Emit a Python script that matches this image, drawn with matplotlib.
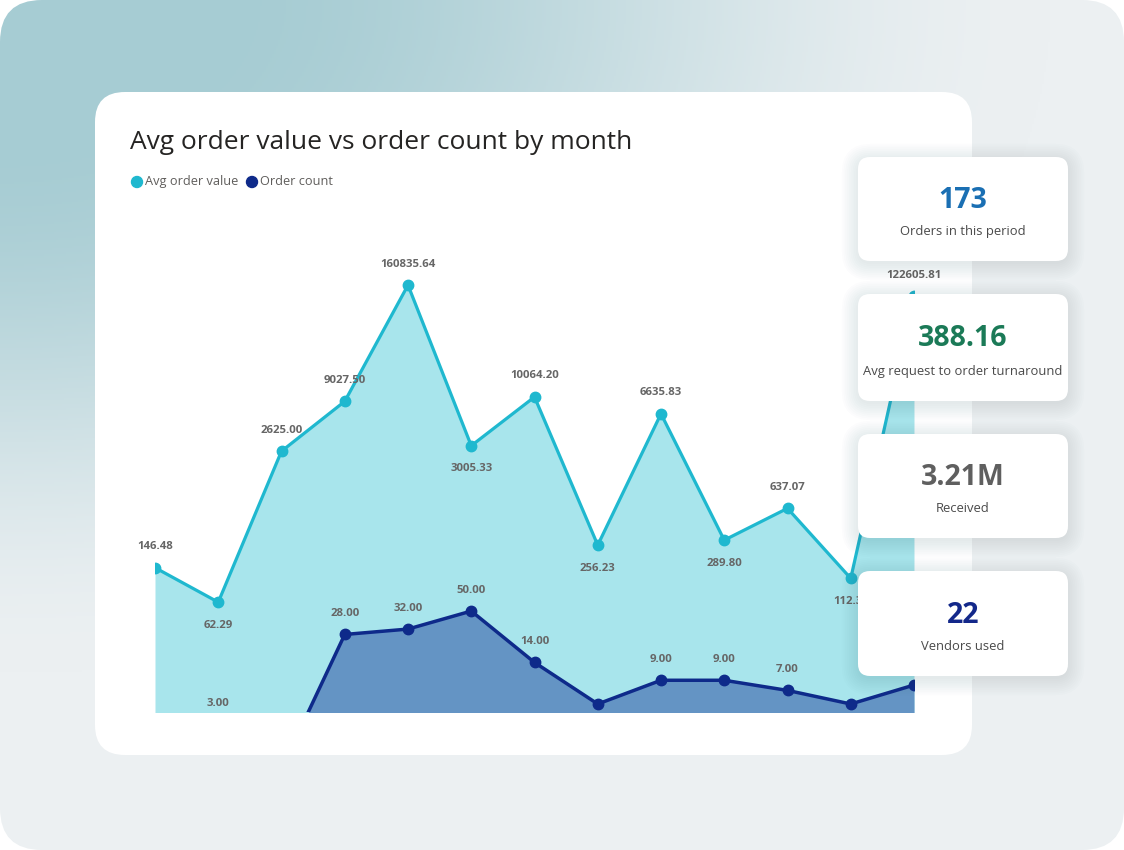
import numpy as np
import matplotlib
matplotlib.use("Agg")
import matplotlib.pyplot as plt
from matplotlib.patches import FancyBboxPatch, Circle

plt.rcParams['font.family'] = ['Open Sans', 'DejaVu Sans']

# data
months = np.arange(13)
avg_value = [146.48, 62.29, 2625.00, 9027.50, 160835.64, 3005.33, 10064.20,
             256.23, 6635.83, 289.80, 637.07, 112.35, 122605.81]
order_count = [2, 3, 1, 28, 32, 50, 14, 5, 9, 9, 7, 5, 8]
avg_label_pos = ['up', 'down', 'up', 'up', 'up', 'down', 'up',
                 'down', 'up', 'down', 'up', 'down', 'up']
count_labelled = [False, True, False, True, True, True, True,
                  False, True, True, True, False, False]

kpi_values = ['173', '388.16', '3.21M', '22']
kpi_names = ['Orders in this period', 'Avg request to order turnaround',
             'Received', 'Vendors used']
kpi_colors = ['#1a6fb3', '#1b7a57', '#5f5f5f', '#13288a']

W, H = 1124, 850
fig = plt.figure(figsize=(W / 100, H / 100), dpi=100)
fig.patch.set_facecolor('white')

# background layer in pixel coords
bg = fig.add_axes([0, 0, 1, 1], zorder=0)
bg.set_xlim(0, W)
bg.set_ylim(H, 0)
bg.axis('off')

yy, xx = np.mgrid[0:H:2, 0:W:2]
t = np.sqrt((xx / 1000.0) ** 2 + (yy / 640.0) ** 2)
t = np.clip((t - 0.2) / 0.85, 0, 1)
t = t * t * (3 - 2 * t)
teal = np.array([166, 204, 211]) / 255.0
light = np.array([236, 240, 242]) / 255.0
img = teal * (1 - t[..., None]) + light * t[..., None]
frame = FancyBboxPatch((0, 0), W, H, boxstyle="round,pad=0,rounding_size=42",
                       fc='none', ec='none')
bg.add_patch(frame)
im = bg.imshow(img, extent=(0, W, H, 0), zorder=0)
im.set_clip_path(frame)


def card(ax, x, y, w, h, r, shadow=True):
    if shadow:
        for i in range(10):
            s = 1 + i * 1.8
            ax.add_patch(FancyBboxPatch((x - s + 1, y - s + 4), w + 2 * s - 2, h + 2 * s - 2,
                                        boxstyle=f"round,pad=0,rounding_size={r + s}",
                                        fc=(0.25, 0.32, 0.36, 0.01), ec='none', zorder=1))
    ax.add_patch(FancyBboxPatch((x, y), w, h, boxstyle=f"round,pad=0,rounding_size={r}",
                                fc='white', ec='none', zorder=2))


card(bg, 95, 92, 877, 663, 30, shadow=False)

bg.text(130, 142, 'Avg order value vs order count by month', fontsize=19,
        color='#252423', va='center', ha='left', zorder=3)
bg.add_patch(Circle((137, 182), 5.5, color='#1fb8cf', zorder=3))
bg.text(145, 181, 'Avg order value', fontsize=9.2, color='#605e5c', va='center', zorder=3)
bg.add_patch(Circle((252, 182), 5.5, color='#0e2a8a', zorder=3))
bg.text(260, 181, 'Order count', fontsize=9.2, color='#605e5c', va='center', zorder=3)

# chart axes
left, right, bottom_px, top_px = 155, 914, 712, 230
ax = fig.add_axes([left / W, 1 - bottom_px / H, (right - left) / W, (bottom_px - top_px) / H],
                  zorder=1)
ax.patch.set_alpha(0)
ax.set_yscale('log')
ybot, ytop = 4.1, 6.3e5
ax.set_xlim(0, 12)
ax.set_ylim(ybot, ytop)
ax.axis('off')

# fill down well below the visible floor so the axes edge does the cut
base = 0.3
c_avg, f_avg = '#1fb8cf', '#a8e5ec'
c_cnt, f_cnt = '#0e2a8a', '#6494c4'
ax.fill_between(months, avg_value, base, color=f_avg, lw=0, zorder=1)
ax.fill_between(months, order_count, base, color=f_cnt, lw=0, zorder=2)
ax.plot(months, avg_value, color=c_avg, lw=2.3, marker='o', ms=7.5, zorder=3)
ax.plot(months, order_count, color=c_cnt, lw=2.5, marker='o', ms=7.5, zorder=4)

for m, v, pos in zip(months, avg_value, avg_label_pos):
    dy = 21 if pos == 'up' else -23
    ax.annotate(f'{v:.2f}', (m, v), xytext=(0, dy), textcoords='offset pixels',
                ha='center', va='center', fontsize=8.2, fontweight='bold',
                color='#666666', annotation_clip=False, zorder=5)
for m, v, lab in zip(months, order_count, count_labelled):
    if lab:
        ax.annotate(f'{v:.2f}', (m, v), xytext=(0, 21), textcoords='offset pixels',
                    ha='center', va='center', fontsize=8.2, fontweight='bold',
                    color='#666666', annotation_clip=False, zorder=5)

# KPI cards on top
top = fig.add_axes([0, 0, 1, 1], zorder=2)
top.set_xlim(0, W)
top.set_ylim(H, 0)
top.axis('off')
top.patch.set_alpha(0)

card_tops = [157, 294, 434, 571]
card_heights = [104, 107, 104, 105]
for ct, ch, val, name, col in zip(card_tops, card_heights, kpi_values, kpi_names, kpi_colors):
    card(top, 858, ct, 210, ch, 12)
    top.text(963, ct + ch * 0.42, val, fontsize=20.5, fontweight='bold', color=col,
             ha='center', va='center', zorder=3)
    top.text(963, ct + ch * 0.72, name, fontsize=9.4, color='#4a4a4a',
             ha='center', va='center', zorder=3)

fig.savefig('out.png', dpi=100)
